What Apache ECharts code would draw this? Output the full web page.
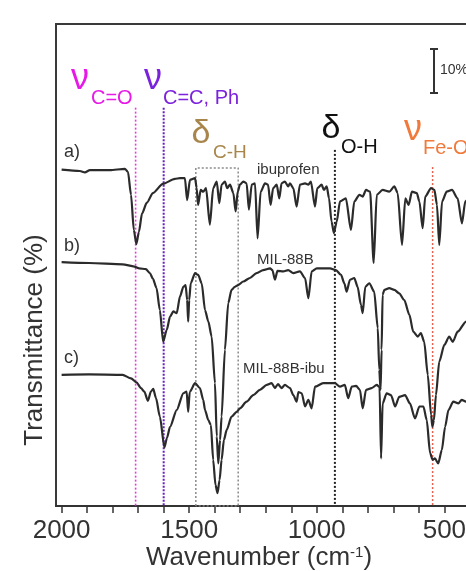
<!DOCTYPE html>
<html>
<head>
<meta charset="utf-8">
<script src="https://cdn.jsdelivr.net/npm/echarts@6/dist/echarts.min.js"></script>
<style>
html,body{margin:0;padding:0;background:#fff}
#chart{width:466px;height:571px}
</style>
</head>
<body>
<div id="chart"></div>
<script>
// FTIR traces, [wavenumber cm-1, transmittance % incl. stacking offset]
var ibuprofen = [[2000,76.4],[1928,76.1],[1909,75.8],[1889,76.3],[1811,76.3],[1752,76.6],[1740,75.9],[1728,70.7],[1717,62.7],[1707,59.5],[1697,62.3],[1685,66.4],[1666,68.9],[1642,71.1],[1603,73.2],[1556,74.3],[1536,74.5],[1517,74.5],[1508,69.5],[1497,74.1],[1477,74.5],[1471,72.3],[1465,68.4],[1455,71.8],[1445,71.4],[1434,72.2],[1419,63.9],[1406,72.2],[1392,73.7],[1382,68.8],[1373,73.0],[1360,73.7],[1351,72.2],[1340,73.0],[1327,71.1],[1318,66.9],[1310,71.4],[1301,73.0],[1288,73.7],[1275,73.3],[1266,67.3],[1255,73.0],[1242,73.3],[1232,60.8],[1220,71.4],[1203,73.3],[1191,73.0],[1181,68.4],[1171,72.2],[1157,73.0],[1147,69.9],[1138,73.3],[1125,73.7],[1112,72.6],[1105,73.3],[1092,72.2],[1079,68.0],[1066,73.0],[1046,73.3],[1033,73.0],[1023,73.7],[1007,68.0],[998,72.2],[981,73.0],[972,71.8],[961,72.6],[952,69.9],[942,64.6],[933,62.0],[922,64.6],[909,69.2],[886,69.9],[866,62.7],[853,69.2],[833,70.7],[820,70.3],[807,71.8],[791,71.4],[777,55.2],[765,70.7],[742,71.8],[716,71.4],[696,72.6],[683,71.1],[666,59.3],[653,69.9],[640,68.4],[627,71.4],[608,71.1],[598,69.2],[585,63.1],[575,70.3],[552,72.2],[539,71.8],[529,68.4],[520,59.3],[509,69.2],[491,71.4],[470,71.8],[448,69.9],[431,64.2],[418,69.2],[400,70.7]];

var mil88b = [[2000,55.4],[1892,55.2],[1761,54.9],[1715,54.4],[1696,54.0],[1670,53.8],[1654,52.9],[1642,51.6],[1628,49.5],[1615,44.5],[1602,37.3],[1588,40.0],[1575,43.0],[1562,44.2],[1549,43.8],[1536,47.6],[1523,49.8],[1514,50.2],[1508,46.8],[1504,41.9],[1500,46.8],[1494,50.6],[1477,52.9],[1465,52.5],[1451,50.6],[1438,44.5],[1425,41.9],[1412,38.5],[1399,27.9],[1392,15.8],[1386,9.7],[1379,15.0],[1373,20.3],[1360,35.5],[1347,46.1],[1334,49.1],[1321,49.8],[1308,50.2],[1288,51.0],[1262,51.8],[1236,52.9],[1210,53.6],[1183,54.0],[1174,53.6],[1164,51.4],[1154,53.4],[1131,53.3],[1112,53.6],[1092,52.9],[1066,53.3],[1046,51.8],[1033,47.2],[1020,53.3],[1000,54.0],[948,54.0],[925,53.6],[905,52.5],[892,50.6],[883,48.7],[870,51.4],[853,51.8],[840,49.8],[827,45.7],[820,43.8],[810,49.8],[794,50.6],[775,48.7],[761,40.4],[755,30.9],[750,26.4],[746,35.5],[742,48.0],[735,49.1],[716,49.5],[696,49.1],[677,48.3],[657,46.8],[637,43.4],[622,39.6],[604,38.5],[592,39.3],[579,37.3],[565,29.8],[552,20.7],[547,18.0],[541,19.5],[533,25.2],[520,32.8],[500,36.6],[481,38.5],[467,37.3],[448,39.6],[415,41.9],[392,43.4]];

var mil88bIbu = [[2000,29.8],[1892,29.9],[1761,29.8],[1728,29.0],[1707,28.1],[1689,26.8],[1676,26.0],[1662,23.9],[1650,26.0],[1641,26.6],[1630,24.5],[1615,20.3],[1597,13.3],[1587,15.5],[1575,18.0],[1549,21.8],[1523,25.6],[1510,26.0],[1504,21.4],[1498,25.9],[1477,27.9],[1458,26.8],[1445,24.1],[1438,21.8],[1425,19.5],[1415,18.4],[1406,10.5],[1397,4.8],[1389,2.9],[1381,5.9],[1373,10.5],[1364,15.0],[1353,17.3],[1334,20.3],[1314,21.4],[1301,22.2],[1275,23.7],[1249,25.2],[1223,26.4],[1196,27.5],[1177,27.9],[1164,26.8],[1152,27.7],[1138,26.8],[1125,27.5],[1105,26.8],[1092,25.2],[1079,23.7],[1072,25.9],[1059,25.6],[1046,22.6],[1033,24.1],[1020,22.2],[1007,27.1],[975,27.9],[929,27.9],[909,27.1],[890,27.5],[877,24.5],[863,27.1],[846,27.3],[831,26.4],[820,22.2],[807,26.4],[785,26.8],[765,27.5],[754,27.0],[748,10.8],[742,23.3],[726,25.6],[709,25.2],[693,22.6],[677,24.8],[654,25.2],[635,23.3],[615,19.9],[598,22.6],[582,22.6],[569,19.5],[556,12.0],[546,10.5],[537,10.8],[524,9.7],[510,12.7],[497,18.0],[484,21.8],[465,23.7],[445,23.3],[432,24.1],[415,23.7],[392,24.5]];

var tickValues = [500,600,700,800,900,1000,1100,1200,1300,1400,1500,1600,1700,1800,1900,2000];
var labelValues = [500,1000,1500,2000];

// band guides: wavenumber and top of the dotted line (T units)
var guideCO = [1710, 90.5];
var guideCC = [1600, 90.5];
var guideOH = [929, 80.9];
var guideFeO = [546, 77.0];
var boxCH = [1474, 1308, 76.8];

var FONT = 'Liberation Sans, Arial, sans-serif';
var LINE = '#2b2b2b';

function trace(data) {
    return {
        type: 'line', data: data, symbol: 'none', z: 3, silent: true,
        smooth: 0.25, smoothMonotone: 'x',
        lineStyle: { color: LINE, width: 2.2 }
    };
}
function guide(g, color, width, dash) {
    return {
        type: 'line', data: [[g[0], g[1]], [g[0], 0]], symbol: 'none', z: 2, silent: true,
        lineStyle: { color: color, width: width, type: dash }
    };
}
function txt(x, y, s, size, color, align) {
    return { type: 'text', x: x, y: y, silent: true,
        style: { text: s, fontSize: size, fontFamily: FONT, fill: color,
            textAlign: align || 'left', textVerticalAlign: 'middle' } };
}

var chart = echarts.init(document.getElementById('chart'));
chart.setOption({
    animation: false,
    backgroundColor: '#fff',
    grid: { left: 56, top: 24, right: -10, bottom: 65, show: true, outerBoundsMode: 'none',
        borderColor: '#3a3a3a', borderWidth: 2 },
    xAxis: {
        type: 'value', inverse: true, min: 376, max: 2022,
        axisLine: { show: true, lineStyle: { color: '#333', width: 2 } },
        axisTick: { show: true, customValues: tickValues, length: 7, lineStyle: { color: '#333', width: 1.5 } },
        axisLabel: { customValues: labelValues, fontSize: 26, color: '#333', fontFamily: FONT, margin: 12,
            formatter: function (v) { return String(v); } },
        splitLine: { show: false }
    },
    yAxis: { type: 'value', min: 0, max: 109.5, show: false },
    series: [
        guide(guideCO, '#e040e0', 1.6, [2, 2]),
        guide(guideCC, '#6a1fc0', 2, [2, 1.5]),
        guide(guideOH, '#222', 2, [2, 2]),
        guide(guideFeO, '#e8604a', 1.5, [2, 2]),
        {
            type: 'line', symbol: 'none', z: 2, silent: true,
            data: [[boxCH[0], 0], [boxCH[0], boxCH[2]], [boxCH[1], boxCH[2]], [boxCH[1], 0], [boxCH[0], 0]],
            lineStyle: { color: '#8a8a8a', width: 1.5, type: [2, 2] }
        },
        trace(ibuprofen),
        trace(mil88b),
        trace(mil88bIbu)
    ],
    graphic: [
        // band labels
        txt(80, 79, 'ν', 36, '#e619e6', 'center'),
        txt(91, 98, 'C=O', 20, '#e619e6'),
        txt(153, 79, 'ν', 36, '#7b22dc', 'center'),
        txt(163, 98, 'C=C, Ph', 20, '#7b22dc'),
        txt(201, 134, 'δ', 34, '#a8864b', 'center'),
        txt(213, 153, 'C-H', 19, '#a8864b'),
        txt(331, 129, 'δ', 34, '#111', 'center'),
        txt(341, 147, 'O-H', 20, '#111'),
        txt(413, 130, 'ν', 36, '#f07a3c', 'center'),
        txt(423, 148, 'Fe-O', 20, '#f07a3c'),
        // trace labels
        txt(64, 152, 'a)', 18, '#333'),
        txt(64, 246, 'b)', 18, '#333'),
        txt(64, 358, 'c)', 18, '#333'),
        txt(257, 170, 'ibuprofen', 15, '#333'),
        txt(257, 260, 'MIL-88B', 15, '#333'),
        txt(243, 369, 'MIL-88B-ibu', 15, '#333'),
        // 10% scale bar
        { type: 'line', silent: true, shape: { x1: 434, y1: 49, x2: 434, y2: 93 }, style: { stroke: '#333', lineWidth: 2 } },
        { type: 'line', silent: true, shape: { x1: 430, y1: 49, x2: 438, y2: 49 }, style: { stroke: '#333', lineWidth: 2 } },
        { type: 'line', silent: true, shape: { x1: 430, y1: 93, x2: 438, y2: 93 }, style: { stroke: '#333', lineWidth: 2 } },
        txt(440, 70, '10%', 14, '#333'),
        // axis titles
        { type: 'text', x: 35, y: 340, rotation: Math.PI / 2, silent: true,
          style: { text: 'Transmittance (%)', fontSize: 26, fontFamily: FONT, fill: '#333',
              textAlign: 'center', textVerticalAlign: 'middle' } },
        { type: 'text', x: 259, y: 558, silent: true,
          style: { text: 'Wavenumber (cm{sup|-1})', fontSize: 26, fontFamily: FONT, fill: '#333',
              textAlign: 'center', textVerticalAlign: 'middle',
              rich: { sup: { fontSize: 15, fontFamily: FONT, fill: '#333', verticalAlign: 'top', lineHeight: 26 } } } }
    ]
});
</script>
</body>
</html>
